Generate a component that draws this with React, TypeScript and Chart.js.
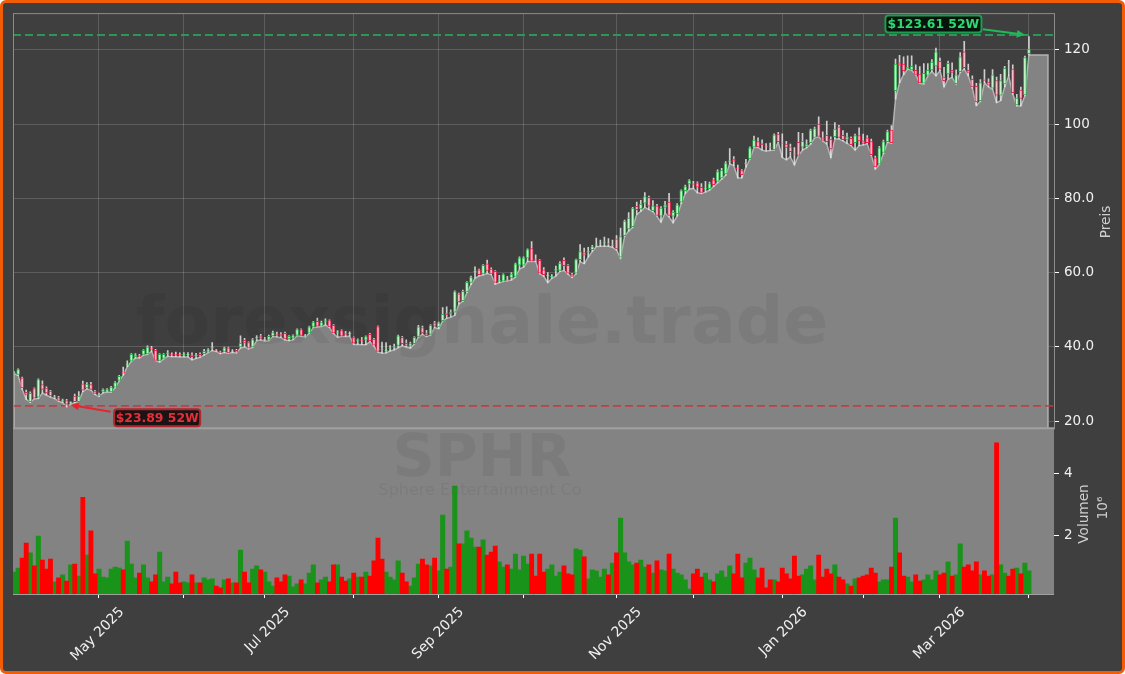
import React, { useEffect, useRef } from 'react';
import { Chart, registerables } from 'chart.js';

Chart.register(...registerables);

// daily candles, Apr 2025 .. Apr 2026, x axis counts trading days
const OPENS = [
  32.9,32.6,31.7,27.8,25.3,28.8,26.5,29.9,28.9,28.1,
  26.4,26.4,25.4,25.6,24.9,26.8,25.3,30.1,29.0,29.9,
  28.1,26.9,27.9,28.1,27.9,29.2,31.0,33.3,35.2,36.2,
  37.3,37.7,38.0,38.1,39.7,39.1,36.4,36.9,38.1,38.0,
  38.0,38.0,37.8,37.9,37.9,37.5,38.0,38.2,38.6,39.7,
  39.2,38.7,38.8,39.8,38.7,39.1,40.0,41.8,41.2,40.0,
  42.4,43.0,41.9,41.8,43.0,43.5,43.4,43.7,42.2,42.4,
  43.1,44.7,42.9,43.7,45.4,46.9,45.6,46.9,47.1,45.8,
  43.9,44.4,43.7,43.5,42.5,41.7,41.8,41.8,43.4,42.1,
  45.5,39.4,38.9,39.6,39.9,40.4,42.6,41.0,40.2,40.9,
  42.7,45.2,43.6,43.4,46.5,45.4,47.1,49.1,49.0,49.4,
  54.3,52.5,54.8,57.4,60.2,60.8,59.7,62.4,61.0,60.4,
  57.8,57.7,58.3,58.6,59.0,62.0,62.0,64.0,66.5,63.7,
  63.3,60.8,59.1,58.8,60.6,60.6,63.3,62.0,59.5,59.9,
  63.5,65.4,65.5,66.2,67.4,67.9,68.1,67.9,67.3,69.1,
  64.2,70.0,71.8,72.4,77.9,77.2,78.7,80.3,76.7,78.0,
  75.2,77.6,79.0,75.2,75.8,79.0,82.1,83.9,84.0,84.2,
  83.0,82.6,82.6,85.0,84.6,85.5,86.6,89.9,90.6,88.2,
  87.5,89.3,90.7,93.8,95.3,94.8,94.1,93.9,93.1,97.3,
  95.0,94.6,93.9,92.2,95.1,93.8,94.0,95.0,96.4,100.0,
  96.3,97.0,96.0,96.6,99.3,97.0,95.9,96.2,95.0,96.9,
  95.5,96.3,95.3,90.9,89.2,92.4,95.3,98.4,109.0,116.5,
  116.2,114.9,114.6,114.5,113.5,111.0,113.1,114.6,115.7,116.9,
  112.7,113.5,114.5,110.9,114.1,119.5,114.5,112.1,110.2,106.3,
  112.0,111.3,109.7,111.7,107.8,110.8,116.4,114.8,105.2,109.2,107.9,119.0,
];
const CLOSES = [
  33.1,33.9,29.0,27.2,27.5,26.2,31.2,28.6,27.6,26.8,
  26.6,25.6,25.8,24.6,25.1,25.3,26.8,28.4,30.0,28.6,
  27.5,27.1,28.5,28.5,29.2,30.4,32.1,33.0,35.4,38.0,
  37.9,37.4,39.1,40.0,39.4,36.4,38.0,38.0,38.4,37.8,
  37.8,37.8,38.0,38.0,37.4,37.8,37.5,38.8,39.3,39.9,
  39.0,38.5,39.8,38.4,38.9,38.6,41.0,41.1,39.7,42.0,
  42.6,42.3,42.1,42.9,43.9,43.2,43.1,42.2,42.9,43.1,
  44.7,43.1,43.2,45.4,46.7,45.6,46.6,47.1,45.4,43.8,
  44.1,42.9,43.4,43.7,41.0,41.9,41.6,42.8,41.6,40.5,
  38.8,39.2,39.1,39.8,40.1,43.0,40.9,40.4,40.9,42.6,
  45.4,43.8,43.0,45.8,45.6,46.5,48.8,48.7,49.3,54.9,
  52.1,55.0,57.4,58.8,60.5,59.5,62.0,60.6,59.7,57.4,
  58.0,59.5,58.0,59.6,62.4,64.0,64.0,66.2,63.1,63.4,
  59.9,59.5,59.3,59.0,60.9,62.6,61.9,59.9,59.0,63.5,
  65.7,64.7,65.8,67.0,67.6,68.0,68.3,67.7,67.5,66.4,
  69.7,73.9,74.7,77.4,77.0,78.5,80.5,77.9,78.0,75.4,
  77.4,78.3,75.4,76.3,78.3,82.1,83.2,84.8,83.8,83.0,
  81.6,82.8,84.0,83.7,87.2,87.5,89.5,90.1,90.0,88.0,
  86.4,89.5,93.6,95.7,93.9,94.5,93.9,93.7,97.1,95.3,
  94.8,93.7,92.6,91.9,91.6,95.4,94.6,98.4,98.8,96.7,
  95.6,95.3,93.3,98.7,96.4,95.8,96.6,94.5,96.9,95.5,
  94.8,95.0,91.8,88.5,93.6,95.3,98.0,95.0,116.2,115.9,
  114.4,115.3,115.6,113.4,111.1,113.7,114.5,116.7,119.5,114.8,
  111.7,116.4,113.9,113.3,118.1,115.2,113.9,110.0,106.0,111.2,
  111.8,110.5,113.3,107.8,111.7,115.0,116.2,108.5,107.0,106.9,117.9,120.2,
];
const HIGHS = [
  33.4,34.1,31.9,28.4,27.9,29.0,31.4,30.9,29.3,28.3,
  27.0,26.7,26.0,25.9,25.2,27.3,28.0,30.8,30.4,30.5,
  28.3,27.6,28.7,28.8,29.4,30.7,32.4,34.6,36.3,38.2,
  38.2,38.0,39.3,40.3,40.2,39.4,38.2,38.2,39.0,38.4,
  38.6,38.4,38.5,38.5,38.4,38.3,38.4,39.4,39.6,41.2,
  39.4,38.9,40.0,40.0,39.3,39.4,43.0,42.3,41.4,42.3,
  43.1,43.4,42.6,43.2,44.3,44.0,43.9,44.0,43.1,43.3,
  44.9,44.9,43.4,45.6,46.9,47.8,47.0,47.6,47.3,46.0,
  44.4,44.6,44.2,44.1,42.7,42.2,42.6,43.0,43.7,42.3,
  45.7,41.3,41.2,40.4,40.8,43.2,42.9,41.9,41.3,42.8,
  45.8,45.6,44.5,46.0,46.9,46.7,50.6,50.8,50.0,55.1,
  54.5,55.3,57.6,59.1,61.6,61.0,62.2,63.4,61.3,60.6,
  59.3,59.7,59.0,60.0,62.6,64.3,64.3,66.4,68.4,64.8,
  63.5,61.4,60.0,59.5,61.8,63.0,64.0,62.2,59.8,63.7,
  67.6,66.6,66.8,67.4,69.3,68.8,69.6,69.2,68.8,70.0,
  72.0,74.2,76.2,77.6,79.0,79.5,81.6,80.6,79.4,78.4,
  77.8,79.2,81.4,76.7,78.6,82.3,83.6,85.1,84.6,84.5,
  84.0,84.6,84.4,85.5,87.7,88.1,89.9,93.4,91.3,89.0,
  87.8,90.5,93.9,96.8,96.3,95.8,94.8,94.9,97.4,97.8,
  97.4,95.4,94.6,93.7,97.8,97.5,95.8,98.7,99.2,102.0,
  97.9,100.8,96.6,100.4,99.7,98.3,97.6,96.6,97.3,99.0,
  97.3,96.9,96.0,91.4,94.0,95.7,98.4,99.6,117.5,118.5,
  118.1,118.4,118.4,116.0,115.5,116.3,116.3,117.4,120.5,117.8,
  115.3,117.0,116.5,114.6,119.3,122.3,116.2,113.0,111.0,112.0,
  114.7,112.2,114.7,112.7,113.4,115.6,117.2,116.0,108.0,110.0,118.3,123.61,
];
const LOWS = [
  32.8,32.3,28.6,25.9,25.1,26.0,26.1,27.6,27.0,26.5,
  26.1,25.4,25.0,23.89,24.6,25.0,25.3,28.0,28.7,28.4,
  27.2,26.7,27.6,27.9,27.8,29.0,30.8,32.4,34.7,36.1,
  37.0,37.0,37.8,38.0,38.8,36.3,35.9,36.8,37.5,37.4,
  37.4,37.3,37.3,37.3,36.5,36.9,37.2,37.8,38.5,39.0,
  38.8,38.2,38.5,38.3,38.5,38.4,39.7,40.0,39.5,39.9,
  41.7,41.9,41.6,41.7,42.8,42.7,42.5,41.9,41.7,41.9,
  43.0,42.9,42.7,43.6,45.2,45.4,45.5,45.9,45.2,43.6,
  42.6,42.8,42.8,42.9,40.7,40.7,40.6,40.6,41.4,40.2,
  38.6,38.3,38.4,38.9,39.2,39.8,40.3,40.0,39.7,40.8,
  42.6,43.4,42.8,43.2,45.2,44.9,47.0,47.7,48.0,48.5,
  51.5,52.3,54.6,56.8,58.5,59.1,59.4,59.8,59.5,56.9,
  57.3,57.6,57.8,58.0,58.8,61.0,61.5,63.0,63.0,63.0,
  59.7,59.0,57.3,58.5,59.1,60.3,60.6,59.6,58.7,59.7,
  63.0,62.4,64.2,65.7,67.0,67.1,67.1,67.1,66.8,66.1,
  63.9,69.8,71.2,72.2,75.7,76.5,77.6,77.0,76.4,75.2,
  73.6,76.0,75.0,73.4,75.2,78.6,81.3,82.5,82.7,81.5,
  81.3,81.7,82.2,83.2,84.2,85.2,86.2,89.3,88.8,85.5,
  85.5,88.4,90.6,93.7,93.7,93.0,92.7,92.9,93.0,95.1,
  91.0,90.4,91.2,89.0,91.5,93.0,93.6,94.6,96.3,96.6,
  95.5,94.6,91.0,96.0,96.0,95.5,94.8,94.2,93.0,94.2,
  94.4,94.7,91.6,87.9,89.1,92.0,95.1,94.9,106.7,111.2,
  113.3,114.8,114.5,113.3,111.0,110.8,113.0,114.2,113.0,114.4,
  110.0,112.1,112.6,110.8,113.9,114.8,113.0,109.7,105.0,106.1,
  111.2,110.0,109.4,105.8,106.3,110.0,113.0,108.1,104.9,104.9,107.6,118.65,
];
// volume in millions
const VOLUMES = [
  .82,.95,1.27,1.76,1.44,1.02,1.98,1.21,.92,1.24,
  .50,.63,.73,.53,1.05,1.08,.69,3.24,1.37,2.15,
  .76,.92,.66,.63,.92,.98,.95,.89,1.82,1.08,
  .63,.79,1.05,.63,.50,.73,1.47,.50,.66,.44,
  .82,.47,.50,.47,.73,.47,.47,.63,.57,.60,
  .37,.31,.57,.60,.47,.47,1.53,.82,.47,.92,
  1.02,.89,.82,.50,.37,.63,.50,.73,.69,.34,
  .44,.57,.44,.79,1.05,.47,.57,.66,.50,1.05,
  1.05,.66,.53,.60,.79,.66,.66,.82,.69,1.18,
  1.92,1.24,.82,.66,.57,1.18,.79,.50,.37,.63,
  1.08,1.24,1.05,1.02,1.27,.86,2.66,.92,.98,3.60,
  1.73,1.73,2.15,1.92,1.63,1.63,1.86,1.37,1.47,1.66,
  1.15,.98,1.05,.92,1.40,.89,1.34,1.08,1.40,.69,
  1.40,.82,.92,1.05,.69,.82,1.02,.76,.73,1.57,
  1.53,1.31,.60,.89,.86,.66,.92,.73,1.11,1.44,
  2.57,1.44,1.15,1.05,1.11,1.21,.98,1.05,.79,1.18,
  .89,.86,1.40,.92,.79,.73,.57,.27,.76,.92,
  .66,.79,.57,.50,.76,.86,.66,1.02,.76,1.40,
  .63,1.11,1.27,.89,.63,.95,.31,.57,.57,.50,
  .95,.76,.60,1.34,.69,.73,.92,1.02,.57,1.37,
  .66,.92,.76,1.05,.66,.57,.44,.37,.60,.63,
  .69,.73,.95,.79,.50,.57,.57,.98,2.57,1.44,
  .69,.66,.50,.73,.53,.57,.73,.57,.86,.73,
  .79,1.15,.69,.73,1.73,.98,1.05,.86,1.15,.73,
  .86,.69,.73,5.00,1.05,.79,.69,.92,.95,.76,1.11,.86,
];

const MONTH_TICKS = [21, 42, 62, 84, 105, 126, 149, 168, 190, 210, 229, 251];
const MONTH_LABELS = ['May 2025', '', 'Jul 2025', '', 'Sep 2025', '', 'Nov 2025', '', 'Jan 2026', '', 'Mar 2026', ''];
const PRICE_TICKS = [20, 40, 60, 80, 100, 120];
const VOLUME_TICKS = [2, 4];

const LOW_52W = 23.89;
const HIGH_52W = 123.61;
const LOW_INDEX = 13;
const HIGH_INDEX = 251;
// dashed guide lines sit a touch above the printed values in the picture
const LOW_LINE = 24.15;
const HIGH_LINE = 124.0;

const X_MIN = -0.27;
const X_MAX = 257.2;
const AREA_END = 255.7;
const PRICE_MIN = 18.1;
const PRICE_MAX = 129.9;
const VOL_MIN = 0.11;
const VOL_MAX = 5.47;

const FONT = '"DejaVu Sans"';

const indices = OPENS.map((_, i) => i);
const upIdx = indices.filter((i) => CLOSES[i] >= OPENS[i]);
const downIdx = indices.filter((i) => CLOSES[i] < OPENS[i]);

const bodies = (list: number[]) => list.map((i) => ({ x: i, y: [OPENS[i], CLOSES[i]] }));
const vols = (list: number[]) => list.map((i) => ({ x: i, y: VOLUMES[i] }));

function drawArrow(ctx: CanvasRenderingContext2D, x0: number, y0: number, x1: number, y1: number, color: string) {
  const a = Math.atan2(y1 - y0, x1 - x0);
  ctx.strokeStyle = color;
  ctx.fillStyle = color;
  ctx.lineWidth = 2;
  ctx.beginPath();
  ctx.moveTo(x0, y0);
  ctx.lineTo(x1 - 6 * Math.cos(a), y1 - 6 * Math.sin(a));
  ctx.stroke();
  ctx.beginPath();
  ctx.moveTo(x1, y1);
  ctx.lineTo(x1 - 9 * Math.cos(a - 0.45), y1 - 9 * Math.sin(a - 0.45));
  ctx.lineTo(x1 - 9 * Math.cos(a + 0.45), y1 - 9 * Math.sin(a + 0.45));
  ctx.closePath();
  ctx.fill();
}

function drawBadge(ctx: CanvasRenderingContext2D, text: string, x: number, y: number, w: number, h: number, fg: string, edge: string, bg: string) {
  ctx.beginPath();
  ctx.roundRect(x, y, w, h, 3);
  ctx.fillStyle = bg;
  ctx.fill();
  ctx.strokeStyle = edge;
  ctx.lineWidth = 2;
  ctx.stroke();
  ctx.fillStyle = fg;
  ctx.font = `bold 12.4px ${FONT}`;
  ctx.textAlign = 'center';
  ctx.textBaseline = 'middle';
  ctx.fillText(text, x + w / 2, y + h / 2 + 0.5);
}

function vText(ctx: CanvasRenderingContext2D, text: string, x: number, y: number) {
  ctx.save();
  ctx.translate(x, y);
  ctx.rotate(-Math.PI / 2);
  ctx.fillText(text, 0, 0);
  ctx.restore();
}

// volume panel background goes over the grid, before the datasets
const panelPlugin = {
  id: 'panel',
  beforeDatasetsDraw(chart: any) {
    const { ctx, scales } = chart;
    ctx.save();
    ctx.fillStyle = '#838383';
    ctx.fillRect(scales.x.left, scales.yV.top, scales.x.right - scales.x.left, scales.yV.bottom - scales.yV.top);
    ctx.restore();
  },
  afterDatasetsDraw(chart: any) {
    const { ctx, scales } = chart;
    const { x, yP, yV } = scales;
    ctx.save();

    // watermarks
    ctx.fillStyle = 'rgba(0,0,0,0.055)';
    ctx.textAlign = 'center';
    ctx.textBaseline = 'middle';
    ctx.font = `bold 66.5px ${FONT}`;
    ctx.fillText('forexsignale.trade', 482, 326);
    ctx.font = `bold 58.5px ${FONT}`;
    ctx.fillText('SPHR', 482, 461);
    ctx.font = `16px ${FONT}`;
    ctx.fillText('Sphere Entertainment Co', 480, 491);

    // spines
    ctx.strokeStyle = '#8c8c8c';
    ctx.lineWidth = 1;
    ctx.strokeRect(x.left + 0.5, yP.top + 0.5, x.right - x.left, yP.bottom - yP.top);
    ctx.strokeStyle = '#a0a0a0';
    ctx.lineWidth = 2;
    ctx.beginPath();
    ctx.moveTo(x.left, yP.bottom);
    ctx.lineTo(x.right, yP.bottom);
    ctx.stroke();
    ctx.lineWidth = 1;
    ctx.beginPath();
    ctx.moveTo(x.left, yV.bottom + 0.5);
    ctx.lineTo(x.right, yV.bottom + 0.5);
    ctx.stroke();

    // axis titles
    ctx.fillStyle = '#cfcfcf';
    ctx.font = `13.7px ${FONT}`;
    ctx.textAlign = 'center';
    ctx.textBaseline = 'middle';
    vText(ctx, 'Preis', 1106, 222);
    vText(ctx, 'Volumen', 1084, 514);
    vText(ctx, '10\u2076', 1103, 508);

    // 52 week low / high badges
    const lowX = x.getPixelForValue(LOW_INDEX);
    const lowY = yP.getPixelForValue(LOW_52W);
    const highX = x.getPixelForValue(HIGH_INDEX);
    const highY = yP.getPixelForValue(HIGH_52W);
    drawArrow(ctx, lowX + 44, lowY + 5, lowX + 4, lowY - 1.7, '#e5262e');
    drawArrow(ctx, highX - 46, highY - 7.3, highX - 4, highY - 1.6, '#22b85a');
    drawBadge(ctx, `$${LOW_52W} 52W`, lowX + 47.5, lowY + 2.5, 86, 17, '#e5303a', '#b3262c', '#1c1414');
    drawBadge(ctx, `$${HIGH_52W} 52W`, highX - 143.5, highY - 21, 96, 17, '#2fd872', '#1f9a50', '#06140c');
    ctx.restore();
  },
};

export default function App() {
  const canvasRef = useRef<HTMLCanvasElement>(null);

  useEffect(() => {
    const el = canvasRef.current;
    if (!el) return;

    const chart = new Chart(el, {
      type: 'bar',
      data: {
        datasets: [
          {
            type: 'line',
            label: 'area',
            yAxisID: 'yP',
            order: 10,
            data: [
              { x: 0, y: PRICE_MIN },
              ...indices.map((i) => ({ x: i, y: LOWS[i] })),
              { x: AREA_END, y: LOWS[LOWS.length - 1] },
              { x: AREA_END, y: PRICE_MIN },
            ],
            fill: 'start',
            backgroundColor: '#838383',
            borderColor: '#b4b4b4',
            borderWidth: 1.5,
            pointRadius: 0,
            tension: 0,
          },
          {
            type: 'line',
            label: 'low52',
            yAxisID: 'yP',
            order: 9,
            data: [{ x: X_MIN, y: LOW_LINE }, { x: X_MAX, y: LOW_LINE }],
            borderColor: 'rgba(206,52,58,0.85)',
            borderWidth: 1.8,
            borderDash: [8, 4],
            pointRadius: 0,
          },
          {
            type: 'line',
            label: 'high52',
            yAxisID: 'yP',
            order: 9,
            data: [{ x: X_MIN, y: HIGH_LINE }, { x: X_MAX, y: HIGH_LINE }],
            borderColor: 'rgba(42,160,88,0.9)',
            borderWidth: 1.8,
            borderDash: [8, 4],
            pointRadius: 0,
          },
          {
            label: 'wicks',
            yAxisID: 'yP',
            order: 8,
            grouped: false,
            data: indices.map((i) => ({ x: i, y: [LOWS[i], HIGHS[i]] })),
            backgroundColor: 'rgba(232,232,232,0.85)',
            barThickness: 1,
          },
          {
            label: 'up',
            yAxisID: 'yP',
            order: 7,
            grouped: false,
            data: bodies(upIdx),
            backgroundColor: '#c6f5cc',
            borderColor: '#2fae4e',
            borderWidth: 1,
            borderSkipped: false,
            barThickness: 3,
          },
          {
            label: 'down',
            yAxisID: 'yP',
            order: 6,
            grouped: false,
            data: bodies(downIdx),
            backgroundColor: '#f7bccb',
            borderColor: '#e32850',
            borderWidth: 1,
            borderSkipped: false,
            barThickness: 3,
          },
          {
            label: 'volUp',
            yAxisID: 'yV',
            order: 5,
            grouped: false,
            data: vols(upIdx),
            backgroundColor: '#1a931a',
            barThickness: 4.4,
          },
          {
            label: 'volDown',
            yAxisID: 'yV',
            order: 4,
            grouped: false,
            data: vols(downIdx),
            backgroundColor: '#ff0000',
            barThickness: 4.2,
          },
        ] as any,
      },
      options: {
        responsive: false,
        animation: false,
        devicePixelRatio: 1,
        layout: { padding: { left: 13, top: 12, right: 0, bottom: 0 } },
        plugins: { legend: { display: false }, tooltip: { enabled: false } },
        scales: {
          x: {
            type: 'linear',
            min: X_MIN,
            max: X_MAX,
            offset: false,
            afterBuildTicks: (scale: any) => {
              scale.ticks = MONTH_TICKS.map((value) => ({ value }));
            },
            afterFit: (scale: any) => {
              scale.height = 80;
              scale.paddingLeft = 0;
              scale.paddingRight = 0;
            },
            grid: { offset: false, color: 'rgba(255,255,255,0.16)', tickColor: '#ffffff', tickLength: 4 },
            border: { display: false },
            ticks: {
              autoSkip: false,
              maxRotation: 45,
              minRotation: 45,
              labelOffset: 23,
              padding: 6,
              color: '#f0f0f0',
              font: { family: FONT, size: 14 },
              callback: (value: any) => MONTH_LABELS[MONTH_TICKS.indexOf(value)] ?? '',
            },
          },
          yP: {
            type: 'linear',
            position: 'right',
            stack: 'panels',
            stackWeight: 416,
            min: PRICE_MIN,
            max: PRICE_MAX,
            afterBuildTicks: (scale: any) => {
              scale.ticks = PRICE_TICKS.map((value) => ({ value }));
            },
            afterFit: (scale: any) => {
              scale.width = 71;
            },
            grid: { color: 'rgba(255,255,255,0.16)', tickColor: '#ffffff', tickLength: 5 },
            border: { display: false },
            ticks: {
              padding: 5,
              color: '#f0f0f0',
              font: { family: FONT, size: 13.5 },
              callback: (value: any) => (value >= 100 ? String(value) : value.toFixed(1)),
            },
          },
          yV: {
            type: 'linear',
            position: 'right',
            stack: 'panels',
            stackWeight: 166,
            min: VOL_MIN,
            max: VOL_MAX,
            afterBuildTicks: (scale: any) => {
              scale.ticks = VOLUME_TICKS.map((value) => ({ value }));
            },
            afterFit: (scale: any) => {
              scale.width = 71;
            },
            grid: { drawOnChartArea: false, tickColor: '#ffffff', tickLength: 5 },
            border: { display: false },
            ticks: {
              padding: 5,
              color: '#f0f0f0',
              font: { family: FONT, size: 13.5 },
            },
          },
        },
      } as any,
      plugins: [panelPlugin],
    });

    return () => {
      chart.destroy();
    };
  }, []);

  return (
    <div style={{ position: 'absolute', left: 0, top: 0, width: 1125, height: 674, background: '#ffffff' }}>
      <div
        style={{
          position: 'absolute',
          inset: 0,
          boxSizing: 'border-box',
          background: '#3f3f3f',
          border: '3px solid #f25c05',
          borderRadius: 6,
        }}
      />
      <canvas ref={canvasRef} width={1125} height={674} style={{ position: 'absolute', left: 0, top: 0 }} />
    </div>
  );
}
